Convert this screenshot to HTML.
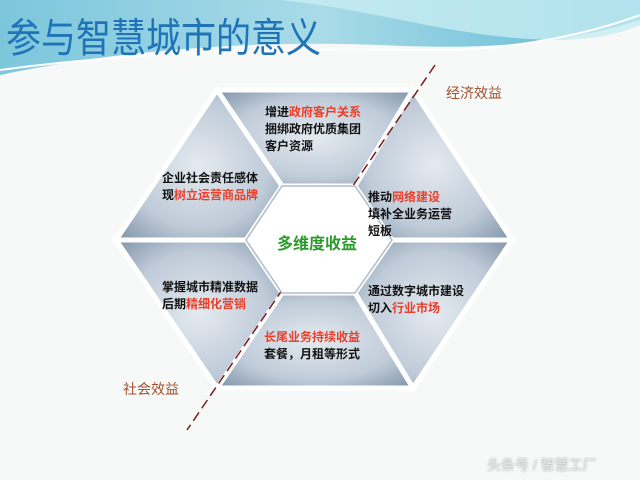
<!DOCTYPE html>
<html><head><meta charset="utf-8"><style>
body{margin:0;width:640px;height:480px;overflow:hidden;background:#f7f8f8;font-family:"Liberation Sans","Noto Sans CJK SC",sans-serif}
.t{position:absolute;font-size:12px;font-weight:bold;color:#111;line-height:17px;white-space:nowrap}
.r{color:#e8402a}
</style></head><body>
<svg width="640" height="480" style="position:absolute;left:0;top:0">
<defs>
<linearGradient id="sky" x1="0" y1="0" x2="1" y2="0"><stop offset="0" stop-color="#7cc6dc"/><stop offset="0.5" stop-color="#a9dbe8"/><stop offset="1" stop-color="#5cb8d4"/></linearGradient>
<radialGradient id="g" cx="0.5" cy="0.5" r="0.7"><stop offset="0" stop-color="#e4eaf0"/><stop offset="0.6" stop-color="#bfcbd8"/><stop offset="1" stop-color="#7f93a8"/></radialGradient>
</defs>
<path d="M0 0 H640 V20 C560 45 480 50 380 45 C250 40 120 50 0 75 Z" fill="url(#sky)"/>
<path d="M280 0 C380 10 460 40 560 40 C600 40 630 30 640 25 V0 Z" fill="#c8ecf2" opacity="0.8"/>
<path d="M0 70 C150 50 300 48 420 50 C520 52 600 30 640 15" stroke="#ffffff" stroke-width="2" fill="none"/>
<g fill="url(#g)" stroke="#fff" stroke-width="5" stroke-linejoin="miter">
<polygon points="217,90 413,90 355,186 282,186"/>
<polygon points="413,90 512,240 392,240 355,186"/>
<polygon points="512,240 413,388 355,293 392,240"/>
<polygon points="413,388 217,388 282,293 355,293"/>
<polygon points="217,388 116,240 246,240 282,293"/>
<polygon points="116,240 217,90 282,186 246,240"/>
</g>
<line x1="435" y1="65" x2="187" y2="430" stroke="#7a1c1c" stroke-width="1.5" stroke-dasharray="10,5"/>
<polygon points="282,186 355,186 392,240 355,293 282,293 246,240" fill="#fff" stroke="#b0bccb" stroke-width="1.5"/>
</svg>
<div style="position:absolute;left:6px;top:14px;font-size:35px;color:#1f74b8;line-height:44px;transform:scaleY(1.15);transform-origin:0 0">参与智慧城市的意义</div>
<div style="position:absolute;left:446px;top:83px;font-size:14px;color:#a0522d">经济效益</div>
<div style="position:absolute;left:123px;top:379px;font-size:14px;color:#a0522d">社会效益</div>
<div class="t" style="left:265px;top:104px">增进<span class="r">政府客户关系</span><br>捆绑政府优质集团<br>客户资源</div>
<div class="t" style="left:162px;top:170px">企业社会责任感体<br>现<span class="r">树立运营商品牌</span></div>
<div class="t" style="left:368px;top:189px">推动<span class="r">网络建设</span><br>填补全业务运营<br>短板</div>
<div style="position:absolute;left:277px;top:230px;font-size:16px;font-weight:bold;color:#2a9a2a">多维度收益</div>
<div class="t" style="left:162px;top:279px">掌握城市精准数据<br>后期<span class="r">精细化营销</span></div>
<div class="t" style="left:368px;top:283px">通过数字城市建设<br>切入<span class="r">行业市场</span></div>
<div class="t" style="left:264px;top:329px"><span class="r">长尾业务持续收益</span><br>套餐，月租等形式</div>
<div style="position:absolute;left:487px;top:455px;font-size:14px;color:#e8e8e8;text-shadow:0 0 2px #999">头条号 / 智慧工厂</div>
</body></html>
